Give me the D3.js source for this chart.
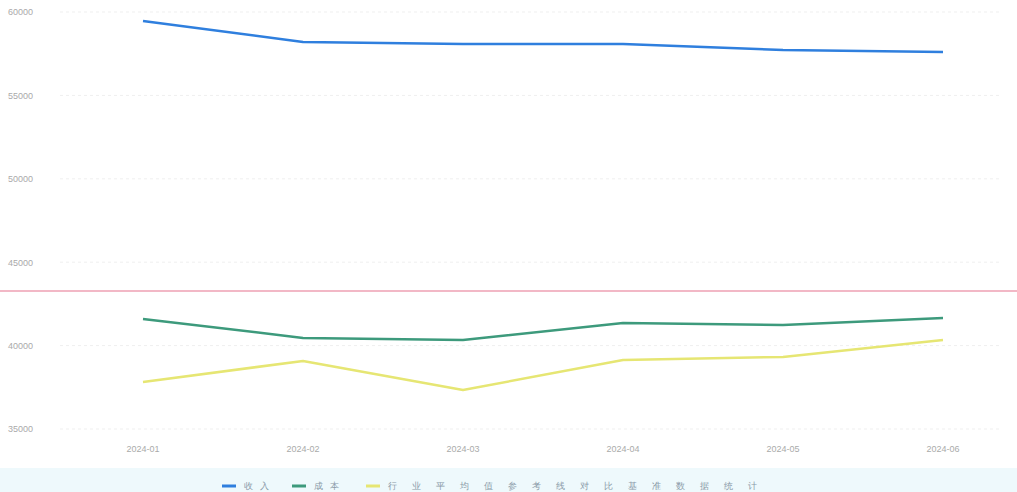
<!DOCTYPE html>
<html>
<head>
<meta charset="utf-8">
<script src="https://cdn.jsdelivr.net/npm/d3@7"></script>
<style>
  body { margin: 0; background: #fff; font-family: "DejaVu Sans", sans-serif; }
</style>
</head>
<body>
<div id="graph1"></div>
<script>
// three series over six months, with a reference line
const months = ["2024-01", "2024-02", "2024-03", "2024-04", "2024-05", "2024-06"];
const seriesNames = ["收入", "成本", "行业平均值参考线对比基准数据统计"];
const revenue = [59460, 58200, 58080, 58080, 57720, 57600];
const cost = [41600, 40460, 40340, 41350, 41240, 41650];
const average = [37820, 39080, 37340, 39140, 39320, 40340];
const yTicks = [35000, 40000, 45000, 50000, 55000, 60000];
const refValue = 43270;

const colors = ["#2f7fde", "#3d9a7c", "#e6e673"];
const width = 1017, height = 492;

let svg = d3.select("#graph1")
    .append("svg")
    .attr("width", width)
    .attr("height", height);

let x = d3.scaleBand()
    .domain(months)
    .range([63, 1023]);

let y = d3.scaleLinear()
    .domain([35000, 60000])
    .range([429, 12]);

// legend strip
svg.append("rect")
    .attr("x", 0).attr("y", 468)
    .attr("width", width).attr("height", 24)
    .attr("fill", "#eef9fc");

// grid
svg.append("g")
    .selectAll("line").data(yTicks).enter()
    .append("line")
    .attr("x1", 60).attr("x2", 1000)
    .attr("y1", d => y(d)).attr("y2", d => y(d))
    .attr("stroke", "#efefef")
    .attr("stroke-dasharray", "3,3");

// y axis labels
let yAxis = svg.append("g")
    .attr("transform", "translate(8,0)")
    .call(d3.axisRight(y).tickValues(yTicks).tickSize(0).tickPadding(0).tickFormat(d3.format("d")));
yAxis.select(".domain").remove();
yAxis.selectAll("text").attr("fill", "#aaa").style("font-size", "9px");

// x axis labels
let xAxis = svg.append("g")
    .attr("transform", "translate(0,440)")
    .call(d3.axisBottom(x).tickSize(0).tickPadding(6));
xAxis.select(".domain").remove();
xAxis.selectAll("text").attr("fill", "#aaa").style("font-size", "9px");

// reference line
svg.append("line")
    .attr("x1", 0).attr("x2", width)
    .attr("y1", y(refValue)).attr("y2", y(refValue))
    .attr("stroke", "#f2b8c6")
    .attr("stroke-width", 2);

let line = d3.line()
    .x((d, i) => x(months[i]) + x.bandwidth() / 2)
    .y(d => y(d));

[revenue, cost, average].forEach((s, i) => {
    svg.append("path")
        .datum(s)
        .attr("fill", "none")
        .attr("stroke", colors[i])
        .attr("stroke-width", 2.5)
        .attr("stroke-linejoin", "round")
        .attr("d", line);
});

// legend
let legendX = [222, 292, 366];
let legend = svg.append("g").selectAll("g").data(seriesNames).enter()
    .append("g")
    .attr("transform", (d, i) => `translate(${legendX[i]}, 486)`);
legend.append("line")
    .attr("x1", 0).attr("x2", 14)
    .attr("stroke", (d, i) => colors[i])
    .attr("stroke-width", 3);
legend.append("text")
    .attr("x", 22).attr("y", 3)
    .attr("fill", "#8a9aa8")
    .style("font-size", "9px")
    .style("letter-spacing", (d, i) => i == 2 ? "15px" : "7px")
    .text(d => d);
</script>
</body>
</html>
